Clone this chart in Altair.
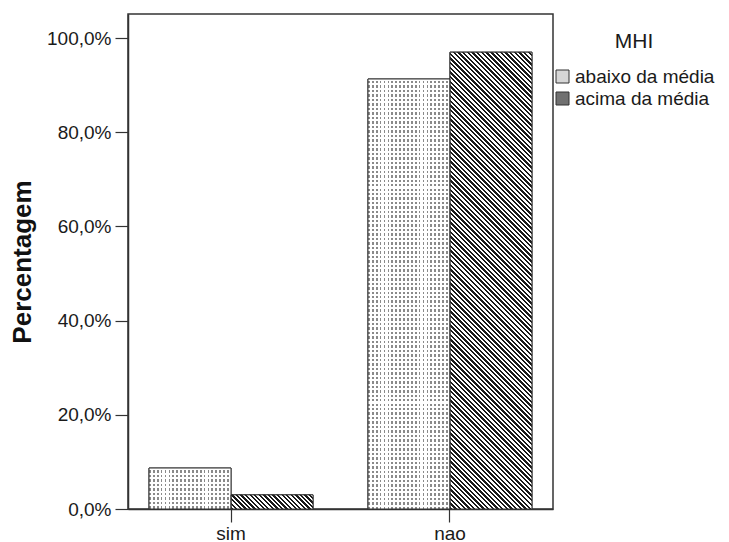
import altair as alt
import pandas as pd

# ---- data ----
categories = ["sim", "nao"]
groups = ["abaixo da média", "acima da média"]
abaixo_values = [8.7, 91.3]
acima_values = [3.0, 97.0]
y_ticks = [0, 20, 40, 60, 80, 100]

rows = []
for c, a, b in zip(categories, abaixo_values, acima_values):
    rows.append({"cat": c, "grp": groups[0], "val": a})
    rows.append({"cat": c, "grp": groups[1], "val": b})
df = pd.DataFrame(rows)

# ---- layout constants ----
W, H = 425, 495
Y_MAX = 105.1
P_IN, P_OUT = 0.251, 0.096
STEP = W / (2 - P_IN + 2 * P_OUT)
BAR_W = STEP * (1 - P_IN) / 2
FONT = "Liberation Sans"
LINE = "#333333"


def bar_h(v):
    return v / Y_MAX * H


def stripes(n, frac, on, off):
    stops = []
    for i in range(n):
        a = round(i / n, 5)
        b = round((i + frac) / n, 5)
        c = round((i + 1) / n, 5)
        stops += [
            alt.GradientStop(offset=a, color=on),
            alt.GradientStop(offset=b, color=on),
            alt.GradientStop(offset=b, color=off),
            alt.GradientStop(offset=c, color=off),
        ]
    return stops


def hatch_gradient(w, h, period=3.3, frac=0.5):
    n = max(1, round((w + h) / 2 ** 0.5 / period))
    s = (w + h) / (w * w + h * h)
    return alt.LinearGradient(
        gradient="linear",
        stops=stripes(n, frac, "#1a1a1a", "#ffffff"),
        x1=0, y1=1, x2=round(w * s, 6), y2=round(1 - h * s, 6),
    )


def vstripe_gradient(w, period=4.0, frac=0.45):
    n = max(1, round(w / period))
    return alt.LinearGradient(
        gradient="linear",
        stops=stripes(n, frac, "#8a8a8a", "#ffffff"),
        x1=0, y1=0, x2=1, y2=0,
    )


def hmask_gradient(h, period=4.5, frac=0.45):
    n = max(1, round(h / period))
    return alt.LinearGradient(
        gradient="linear",
        stops=stripes(n, frac, "#ffffff", "rgba(255,255,255,0)"),
        x1=0, y1=0, x2=0, y2=1,
    )


x_enc = alt.X(
    "cat:N",
    sort=categories,
    scale=alt.Scale(domain=categories, paddingInner=P_IN, paddingOuter=P_OUT),
    axis=alt.Axis(title=None, labelAngle=0, labelPadding=2),
)
xo_enc = alt.XOffset(
    "grp:N", sort=groups, scale=alt.Scale(domain=groups, paddingInner=0, paddingOuter=0)
)
y_enc = alt.Y(
    "val:Q",
    scale=alt.Scale(domain=[0, Y_MAX], nice=False, zero=True),
    axis=alt.Axis(
        values=y_ticks,
        labelExpr="replace(format(datum.value, '.1f'), '.', ',') + '%'",
        title="Percentagem",
        grid=False,
        labelPadding=4,
        titlePadding=11,
    ),
)

base = alt.Chart(df).encode(x=x_enc, xOffset=xo_enc, y=y_enc)

legend_layer = base.mark_bar(stroke=LINE, strokeWidth=1).encode(
    color=alt.Color(
        "grp:N",
        sort=groups,
        scale=alt.Scale(domain=groups, range=["#d6d6d6", "#707070"]),
        legend=alt.Legend(
            title="MHI",
            orient="none",
            legendX=425,
            legendY=17,
            titleAnchor="middle",
            titleFontSize=21,
            titleFontWeight="normal",
            titleFont=FONT,
            titleColor="#1a1a1a",
            titlePadding=15,
            labelFont=FONT,
            labelFontSize=19,
            labelColor="#1a1a1a",
            labelOffset=3,
            labelLimit=300,
            symbolType="square",
            symbolSize=169,
            symbolStrokeColor=LINE,
            symbolStrokeWidth=1,
            rowPadding=2,
            padding=0,
        ),
    )
)

layers = [legend_layer]

# dotted texture for "abaixo da média"
layers.append(
    base.mark_bar(fill=vstripe_gradient(BAR_W)).transform_filter(
        alt.datum.grp == groups[0]
    )
)
for c, v in zip(categories, abaixo_values):
    layers.append(
        base.mark_bar(fill=hmask_gradient(bar_h(v))).transform_filter(
            (alt.datum.grp == groups[0]) & (alt.datum.cat == c)
        )
    )

# diagonal hatch for "acima da média"
for c, v in zip(categories, acima_values):
    layers.append(
        base.mark_bar(fill=hatch_gradient(BAR_W, bar_h(v))).transform_filter(
            (alt.datum.grp == groups[1]) & (alt.datum.cat == c)
        )
    )

# outlines
layers.append(base.mark_bar(fillOpacity=0, stroke=LINE, strokeWidth=1))

chart = (
    alt.layer(*layers)
    .properties(
        width=W,
        height=H,
        autosize=alt.AutoSizeParams(type="none"),
        padding={"left": 120, "top": 6, "right": 168, "bottom": 33},
        background="white",
    )
    .configure_view(stroke=LINE, strokeWidth=1.5)
    .configure_axis(
        domainColor=LINE,
        domainWidth=1.5,
        tickColor=LINE,
        tickWidth=1.2,
        tickSize=13,
        labelFont=FONT,
        labelFontSize=19,
        labelColor="#1a1a1a",
        titleFont=FONT,
        titleFontSize=26,
        titleFontWeight="bold",
        titleColor="#111111",
    )
)

chart.save("out.html", embed_options={"renderer": "svg", "actions": False})
